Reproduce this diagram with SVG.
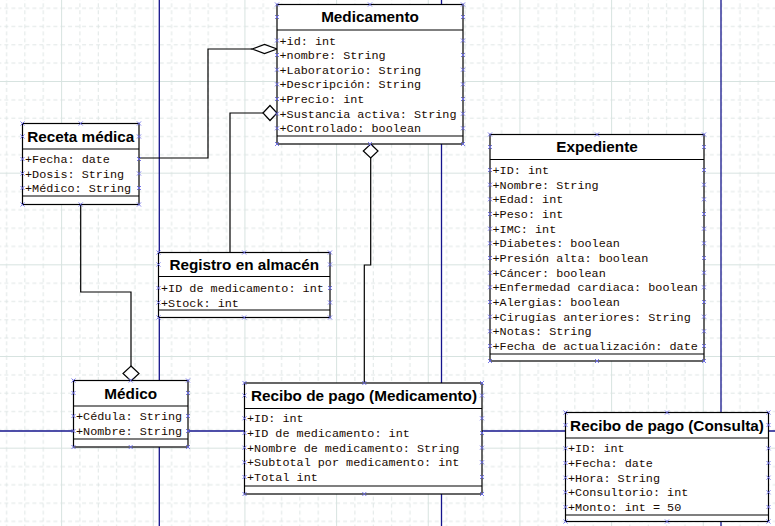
<svg xmlns="http://www.w3.org/2000/svg" xmlns:xlink="http://www.w3.org/1999/xlink" width="775" height="526" viewBox="0 0 775 526">
<style>
.box{fill:#fff;stroke:#000;stroke-width:1.2}
.sep{stroke:#000;stroke-width:1.2}
.title{font-family:"Liberation Sans",Arial,sans-serif;font-weight:bold;font-size:15.3px;fill:#000;text-anchor:middle}
.attr{font-family:"Liberation Mono","Courier New",monospace;font-size:11.8px;fill:#1a0a00}
.con{fill:none;stroke:#000;stroke-width:1.2}
.dia{fill:#fff;stroke:#000;stroke-width:1.2}
.page{stroke:#14148c;stroke-width:1.3}
</style>
<defs>
<pattern id="grid" patternUnits="userSpaceOnUse" x="-30.57" y="-10.67" width="91.667" height="91.667">
<path d="M18.83,0V91.667M37.17,0V91.667M55.5,0V91.667M73.83,0V91.667M0,18.83H91.667M0,37.17H91.667M0,55.5H91.667M0,73.83H91.667" stroke="#dfe6e5" stroke-width="1" stroke-dasharray="4 3" fill="none"/>
<path d="M0.5,0V91.667M0,0.5H91.667" stroke="#d7e3e0" stroke-width="1" fill="none"/>
</pattern>
<path id="m" d="M-2,-2L2,2M-2,2L2,-2" stroke="#6a6ae8" stroke-width="0.9" fill="none"/>
</defs>
<rect width="775" height="526" fill="#fff"/>
<rect width="775" height="526" fill="url(#grid)"/>
<g id="pages">
<line class="page" x1="159.3" y1="0" x2="159.3" y2="526"/>
<line class="page" x1="441.5" y1="0" x2="441.5" y2="526"/>
<line class="page" x1="721" y1="0" x2="721" y2="526"/>
<line class="page" x1="0" y1="431" x2="775" y2="431"/>
</g>
<g id="connectors">
<polyline class="con" points="139,158 208,158 208,49 252,49"/>
<polygon class="dia" points="252,49 264.5,44.5 277,49 264.5,53.5"/>
<polyline class="con" points="230,252.5 230,113 263,113"/>
<polygon class="dia" points="263,113 270,105.5 277,113 270,120.5"/>
<polyline class="con" points="364.3,383 364.3,265 370.7,265 370.7,158"/>
<polygon class="dia" points="370.7,144 378,151 370.7,158 363.3,151"/>
<polyline class="con" points="80.7,204.5 80.7,292 131,292 131,366"/>
<polygon class="dia" points="131,366 139,373.5 131,381 123,373.5"/>
</g>
<g id="medicamento">
<rect class="box" x="277" y="4.5" width="186" height="139.5"/>
<line class="sep" x1="277" y1="30" x2="463" y2="30"/>
<line class="sep" x1="277" y1="136" x2="463" y2="136"/>
<text class="title" x="370" y="22">Medicamento</text>
<text class="attr" x="279.5" y="44.5">+id: int</text>
<text class="attr" x="279.5" y="59">+nombre: String</text>
<text class="attr" x="279.5" y="73.7">+Laboratorio: String</text>
<text class="attr" x="279.5" y="88.3">+Descripción: String</text>
<text class="attr" x="279.5" y="103">+Precio: int</text>
<text class="attr" x="279.5" y="117.7">+Sustancia activa: String</text>
<text class="attr" x="279.5" y="132.3">+Controlado: boolean</text>
<use href="#m" x="277" y="4.5"/><use href="#m" x="370" y="4.5"/><use href="#m" x="463" y="4.5"/>
<use href="#m" x="277" y="17"/><use href="#m" x="463" y="17"/>
<use href="#m" x="277" y="40.5"/><use href="#m" x="463" y="40.5"/>
<use href="#m" x="277" y="55"/><use href="#m" x="463" y="55"/>
<use href="#m" x="277" y="69.7"/><use href="#m" x="463" y="69.7"/>
<use href="#m" x="277" y="84.3"/><use href="#m" x="463" y="84.3"/>
<use href="#m" x="277" y="99"/><use href="#m" x="463" y="99"/>
<use href="#m" x="277" y="113.7"/><use href="#m" x="463" y="113.7"/>
<use href="#m" x="277" y="128.3"/><use href="#m" x="463" y="128.3"/>
<use href="#m" x="277" y="144"/><use href="#m" x="370" y="144"/><use href="#m" x="463" y="144"/>
</g>
<g id="receta">
<rect class="box" x="22.5" y="123.5" width="116.5" height="81"/>
<line class="sep" x1="22.5" y1="149" x2="139" y2="149"/>
<line class="sep" x1="22.5" y1="196" x2="139" y2="196"/>
<text class="title" x="80.7" y="141.5">Receta médica</text>
<text class="attr" x="25" y="163">+Fecha: date</text>
<text class="attr" x="25" y="177.5">+Dosis: String</text>
<text class="attr" x="25" y="192">+Médico: String</text>
<use href="#m" x="22.5" y="123.5"/><use href="#m" x="80.7" y="123.5"/><use href="#m" x="139" y="123.5"/>
<use href="#m" x="22.5" y="136.5"/><use href="#m" x="139" y="136.5"/>
<use href="#m" x="22.5" y="159"/><use href="#m" x="139" y="159"/>
<use href="#m" x="22.5" y="173.5"/><use href="#m" x="139" y="173.5"/>
<use href="#m" x="22.5" y="188"/><use href="#m" x="139" y="188"/>
<use href="#m" x="22.5" y="204.5"/><use href="#m" x="80.7" y="204.5"/><use href="#m" x="139" y="204.5"/>
</g>
<g id="registro">
<rect class="box" x="158.5" y="252.5" width="171.5" height="65"/>
<line class="sep" x1="158.5" y1="276.5" x2="330" y2="276.5"/>
<line class="sep" x1="158.5" y1="310" x2="330" y2="310"/>
<text class="title" x="244.2" y="269.5">Registro en almacén</text>
<text class="attr" x="161" y="292">+ID de medicamento: int</text>
<text class="attr" x="161" y="306.5">+Stock: int</text>
<use href="#m" x="158.5" y="252.5"/><use href="#m" x="244.2" y="252.5"/><use href="#m" x="330" y="252.5"/>
<use href="#m" x="158.5" y="264.5"/><use href="#m" x="330" y="264.5"/>
<use href="#m" x="158.5" y="288"/><use href="#m" x="330" y="288"/>
<use href="#m" x="158.5" y="302.5"/><use href="#m" x="330" y="302.5"/>
<use href="#m" x="158.5" y="317.5"/><use href="#m" x="244.2" y="317.5"/><use href="#m" x="330" y="317.5"/>
</g>
<g id="expediente">
<rect class="box" x="490" y="134.5" width="214" height="226.5"/>
<line class="sep" x1="490" y1="159.5" x2="704" y2="159.5"/>
<line class="sep" x1="490" y1="354" x2="704" y2="354"/>
<text class="title" x="597" y="152">Expediente</text>
<text class="attr" x="492.5" y="174">+ID: int</text>
<text class="attr" x="492.5" y="188.7">+Nombre: String</text>
<text class="attr" x="492.5" y="203.3">+Edad: int</text>
<text class="attr" x="492.5" y="218">+Peso: int</text>
<text class="attr" x="492.5" y="232.7">+IMC: int</text>
<text class="attr" x="492.5" y="247.3">+Diabetes: boolean</text>
<text class="attr" x="492.5" y="262">+Presión alta: boolean</text>
<text class="attr" x="492.5" y="276.7">+Cáncer: boolean</text>
<text class="attr" x="492.5" y="291.3">+Enfermedad cardiaca: boolean</text>
<text class="attr" x="492.5" y="306">+Alergias: boolean</text>
<text class="attr" x="492.5" y="320.7">+Cirugías anteriores: String</text>
<text class="attr" x="492.5" y="335.3">+Notas: String</text>
<text class="attr" x="492.5" y="350">+Fecha de actualización: date</text>
<use href="#m" x="490" y="134.5"/><use href="#m" x="597" y="134.5"/><use href="#m" x="704" y="134.5"/>
<use href="#m" x="490" y="147"/><use href="#m" x="704" y="147"/>
<use href="#m" x="490" y="170"/><use href="#m" x="704" y="170"/>
<use href="#m" x="490" y="184.7"/><use href="#m" x="704" y="184.7"/>
<use href="#m" x="490" y="199.3"/><use href="#m" x="704" y="199.3"/>
<use href="#m" x="490" y="214"/><use href="#m" x="704" y="214"/>
<use href="#m" x="490" y="228.7"/><use href="#m" x="704" y="228.7"/>
<use href="#m" x="490" y="243.3"/><use href="#m" x="704" y="243.3"/>
<use href="#m" x="490" y="258"/><use href="#m" x="704" y="258"/>
<use href="#m" x="490" y="272.7"/><use href="#m" x="704" y="272.7"/>
<use href="#m" x="490" y="287.3"/><use href="#m" x="704" y="287.3"/>
<use href="#m" x="490" y="302"/><use href="#m" x="704" y="302"/>
<use href="#m" x="490" y="316.7"/><use href="#m" x="704" y="316.7"/>
<use href="#m" x="490" y="331.3"/><use href="#m" x="704" y="331.3"/>
<use href="#m" x="490" y="346"/><use href="#m" x="704" y="346"/>
<use href="#m" x="490" y="361"/><use href="#m" x="597" y="361"/><use href="#m" x="704" y="361"/>
</g>
<g id="medico">
<rect class="box" x="73.5" y="380.5" width="114.5" height="66.5"/>
<line class="sep" x1="73.5" y1="406" x2="188" y2="406"/>
<line class="sep" x1="73.5" y1="439" x2="188" y2="439"/>
<text class="title" x="130.7" y="398.5">Médico</text>
<text class="attr" x="76" y="420">+Cédula: String</text>
<text class="attr" x="76" y="435">+Nombre: String</text>
<use href="#m" x="73.5" y="380.5"/><use href="#m" x="130.7" y="380.5"/><use href="#m" x="188" y="380.5"/>
<use href="#m" x="73.5" y="393"/><use href="#m" x="188" y="393"/>
<use href="#m" x="73.5" y="416"/><use href="#m" x="188" y="416"/>
<use href="#m" x="73.5" y="431"/><use href="#m" x="188" y="431"/>
<use href="#m" x="73.5" y="447"/><use href="#m" x="130.7" y="447"/><use href="#m" x="188" y="447"/>
</g>
<g id="recibo-medicamento">
<rect class="box" x="244.5" y="383" width="237.5" height="111"/>
<line class="sep" x1="244.5" y1="408.5" x2="482" y2="408.5"/>
<line class="sep" x1="244.5" y1="486" x2="482" y2="486"/>
<text class="title" x="364" y="401">Recibo de pago (Medicamento)</text>
<text class="attr" x="247" y="422.3">+ID: int</text>
<text class="attr" x="247" y="437">+ID de medicamento: int</text>
<text class="attr" x="247" y="451.7">+Nombre de medicamento: String</text>
<text class="attr" x="247" y="466.3">+Subtotal por medicamento: int</text>
<text class="attr" x="247" y="481">+Total int</text>
<use href="#m" x="244.5" y="383"/><use href="#m" x="364.3" y="383"/><use href="#m" x="482" y="383"/>
<use href="#m" x="244.5" y="395.5"/><use href="#m" x="482" y="395.5"/>
<use href="#m" x="244.5" y="418.3"/><use href="#m" x="482" y="418.3"/>
<use href="#m" x="244.5" y="433"/><use href="#m" x="482" y="433"/>
<use href="#m" x="244.5" y="447.7"/><use href="#m" x="482" y="447.7"/>
<use href="#m" x="244.5" y="462.3"/><use href="#m" x="482" y="462.3"/>
<use href="#m" x="244.5" y="477"/><use href="#m" x="482" y="477"/>
<use href="#m" x="244.5" y="494"/><use href="#m" x="364.3" y="494"/><use href="#m" x="482" y="494"/>
</g>
<g id="recibo-consulta">
<rect class="box" x="565.5" y="412.5" width="203" height="109"/>
<line class="sep" x1="565.5" y1="438" x2="768.5" y2="438"/>
<line class="sep" x1="565.5" y1="515" x2="768.5" y2="515"/>
<text class="title" x="667" y="430.5">Recibo de pago (Consulta)</text>
<text class="attr" x="568" y="452.3">+ID: int</text>
<text class="attr" x="568" y="467">+Fecha: date</text>
<text class="attr" x="568" y="481.7">+Hora: String</text>
<text class="attr" x="568" y="496.3">+Consultorio: int</text>
<text class="attr" x="568" y="511">+Monto: int = 50</text>
<use href="#m" x="565.5" y="412.5"/><use href="#m" x="667" y="412.5"/><use href="#m" x="768.5" y="412.5"/>
<use href="#m" x="565.5" y="425"/><use href="#m" x="768.5" y="425"/>
<use href="#m" x="565.5" y="448.3"/><use href="#m" x="768.5" y="448.3"/>
<use href="#m" x="565.5" y="463"/><use href="#m" x="768.5" y="463"/>
<use href="#m" x="565.5" y="477.7"/><use href="#m" x="768.5" y="477.7"/>
<use href="#m" x="565.5" y="492.3"/><use href="#m" x="768.5" y="492.3"/>
<use href="#m" x="565.5" y="507"/><use href="#m" x="768.5" y="507"/>
<use href="#m" x="565.5" y="521.5"/><use href="#m" x="667" y="521.5"/><use href="#m" x="768.5" y="521.5"/>
</g>
</svg>
